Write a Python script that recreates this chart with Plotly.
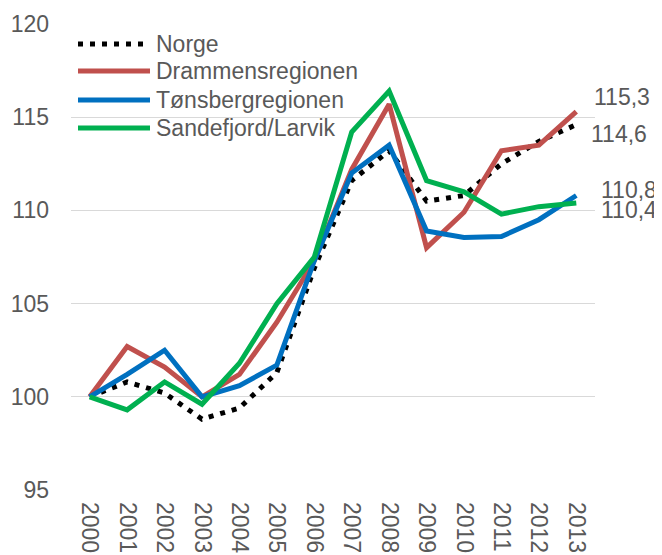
import plotly.graph_objects as go

years = ["2000", "2001", "2002", "2003", "2004", "2005", "2006",
         "2007", "2008", "2009", "2010", "2011", "2012", "2013"]
norge = [100.0, 100.8, 100.2, 98.8, 99.4, 101.3, 106.9, 111.6, 113.2, 110.5, 110.8, 112.5, 113.7, 114.6]
drammen = [100.0, 102.7, 101.6, 100.0, 101.2, 104.0, 107.3, 112.2, 115.7, 108.0, 109.9, 113.2, 113.5, 115.3]
tonsberg = [100.0, 101.2, 102.5, 100.0, 100.6, 101.7, 107.3, 112.0, 113.5, 108.9, 108.55, 108.6, 109.5, 110.8]
sandefjord = [100.0, 99.3, 100.8, 99.6, 101.8, 105.0, 107.5, 114.2, 116.4, 111.6, 111.0, 109.8, 110.2, 110.4]

names = ["Norge", "Drammensregionen", "Tønsbergregionen", "Sandefjord/Larvik"]
series = [norge, drammen, tonsberg, sandefjord]
colors = ["#000000", "#C0504D", "#0070C0", "#00B050"]
dashes = ["5px,7px", "solid", "solid", "solid"]

FONT = "Liberation Sans, Arial, sans-serif"
TXT = "#595959"

# page body has an 8px default margin -> compensate
OFF = 8
W, H = 662 - OFF, 555 - OFF
PW, PH = 524, 466
ML, MT = 71 - OFF, 24 - OFF
MR, MB = W - ML - PW, H - MT - PH


def px2paper(px, py):
    # px, py in window pixels
    return (px - OFF - ML) / PW, (MT + PH - (py - OFF)) / PH


fig = go.Figure()
for n, s, c, d in zip(names, series, colors, dashes):
    fig.add_trace(go.Scatter(x=years, y=s, name=n, mode="lines",
                             line=dict(color=c, width=5, dash=d),
                             showlegend=False))

# end-of-line data labels
label_shifts = {"Norge": (13, -9), "Drammensregionen": (16, 15),
                "Tønsbergregionen": (23, 5), "Sandefjord/Larvik": (23, -7)}
for n, s in zip(names, series):
    xs, ys = label_shifts[n]
    fig.add_annotation(x=len(years) - 1, y=s[-1], xref="x", yref="y",
                       text=f"{s[-1]:.1f}".replace(".", ","),
                       showarrow=False, xanchor="left", yanchor="middle",
                       xshift=xs, yshift=ys,
                       font=dict(family=FONT, size=23, color=TXT))

# legend (drawn manually for Excel-like compact spacing)
leg_y = [44, 71, 100, 128]
for n, c, d, py in zip(names, colors, dashes, leg_y):
    x0, y0 = px2paper(78, py)
    x1, _ = px2paper(150, py)
    fig.add_shape(type="line", xref="paper", yref="paper", x0=x0, x1=x1, y0=y0, y1=y0,
                  line=dict(color=c, width=5, dash=d))
    tx, _ = px2paper(154, py)
    fig.add_annotation(xref="paper", yref="paper", x=tx, y=y0, text=n,
                       showarrow=False, xanchor="left", yanchor="middle",
                       font=dict(family=FONT, size=23, color=TXT))

fig.update_layout(
    width=W, height=H,
    margin=dict(l=ML, r=MR, t=MT, b=MB, autoexpand=False),
    paper_bgcolor="white", plot_bgcolor="white",
    font=dict(family=FONT, size=23, color=TXT),
    showlegend=False,
    xaxis=dict(type="category", range=[-0.5, 13.5], tickangle=90, automargin=False,
               showgrid=False, showline=False, zeroline=False, ticks="",
               ticklabelstandoff=11,
               tickfont=dict(family=FONT, size=23, color=TXT)),
    yaxis=dict(range=[95, 120], dtick=5, tick0=95, showgrid=True, automargin=False,
               gridcolor="#D9D9D9", gridwidth=1.3, zeroline=False,
               showline=False, ticks="", ticklabelstandoff=21,
               tickfont=dict(family=FONT, size=23, color=TXT)),
)

fig.write_html("out.html")
